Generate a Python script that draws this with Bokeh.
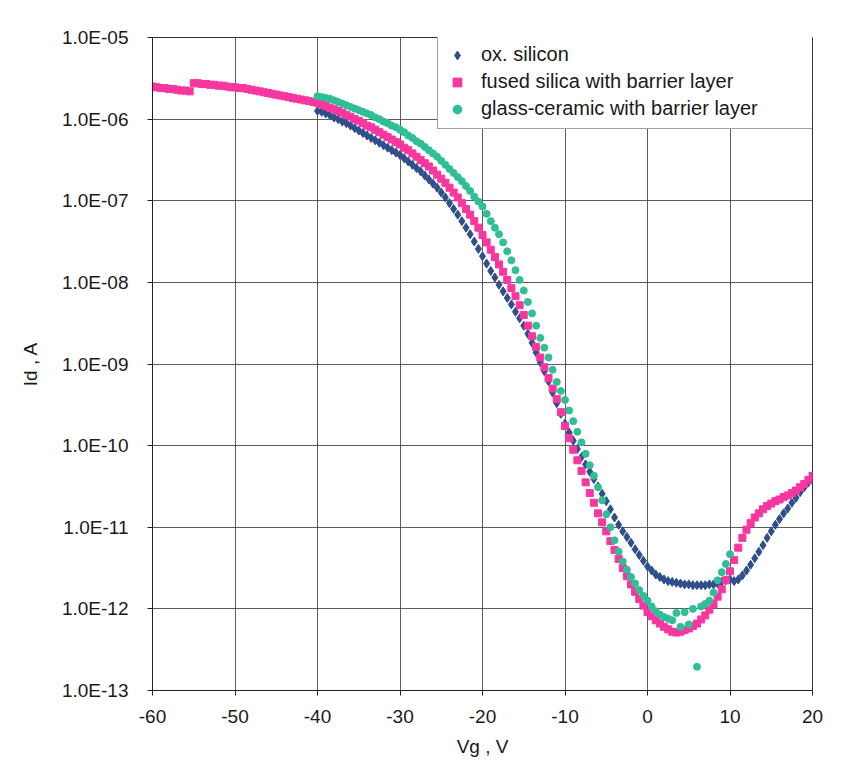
from bokeh.plotting import figure
from bokeh.models import Range1d, FixedTicker, CustomJSTickFormatter, Legend, LegendItem
from bokeh.embed import file_html
from bokeh.resources import INLINE

# ---------------- data ----------------
# gate voltage sweeps (V), 0.5 V step
vg_start_fused = -60.0
vg_start_oxsi = -40.0
vg_start_glass = -40.0
vg_step = 0.5

# log10(Id / A) for each series
log_id_fused = [
    -5.60, -5.61, -5.62, -5.62, -5.63, -5.63, -5.64, -5.65, -5.65, -5.66,
    -5.56, -5.56, -5.57, -5.57, -5.58, -5.58, -5.59, -5.59, -5.60, -5.61,
    -5.61, -5.62, -5.62, -5.63, -5.64, -5.65, -5.66, -5.67, -5.68, -5.69,
    -5.70, -5.71, -5.72, -5.73, -5.74, -5.75, -5.76, -5.77, -5.78, -5.79,
    -5.80, -5.82, -5.84, -5.86, -5.88, -5.90, -5.92, -5.95, -5.97, -6.00,
    -6.02, -6.05, -6.08, -6.10, -6.13, -6.16, -6.19, -6.22, -6.25, -6.28,
    -6.31, -6.35, -6.38, -6.42, -6.46, -6.50, -6.54, -6.58, -6.63, -6.68,
    -6.73, -6.78, -6.84, -6.90, -6.96, -7.03, -7.10, -7.17, -7.25, -7.33,
    -7.42, -7.51, -7.60, -7.69, -7.78, -7.87, -7.97, -8.07, -8.17, -8.28,
    -8.40, -8.53, -8.66, -8.79, -8.92, -9.04, -9.17, -9.30, -9.43, -9.59,
    -9.76, -9.91, -10.05, -10.18, -10.31, -10.45, -10.58, -10.70, -10.83, -10.94,
    -11.05, -11.17, -11.28, -11.39, -11.50, -11.60, -11.70, -11.79, -11.88, -11.96,
    -12.04, -12.09, -12.14, -12.18, -12.22, -12.25, -12.28, -12.29, -12.28, -12.26,
    -12.24, -12.21, -12.18, -12.13, -12.08, -12.01, -11.94, -11.85, -11.76, -11.65,
    -11.54, -11.40, -11.25, -11.13, -11.03, -10.95, -10.88, -10.83, -10.78, -10.74,
    -10.71, -10.68, -10.66, -10.63, -10.61, -10.58, -10.55, -10.51, -10.47, -10.42,
    -10.37,
]

log_id_oxsi = [
    -5.90, -5.91, -5.93, -5.95, -5.98, -6.00, -6.03, -6.05, -6.08, -6.11,
    -6.14, -6.17, -6.20, -6.23, -6.26, -6.29, -6.32, -6.35, -6.38, -6.41,
    -6.44, -6.48, -6.52, -6.56, -6.60, -6.64, -6.69, -6.74, -6.79, -6.84,
    -6.90, -6.96, -7.03, -7.10, -7.17, -7.25, -7.33, -7.41, -7.50, -7.59,
    -7.68, -7.77, -7.86, -7.94, -8.03, -8.11, -8.19, -8.27, -8.36, -8.44,
    -8.53, -8.63, -8.74, -8.86, -8.98, -9.09, -9.21, -9.35, -9.48, -9.61,
    -9.73, -9.84, -9.94, -10.04, -10.14, -10.23, -10.32, -10.41, -10.50, -10.59,
    -10.68, -10.78, -10.88, -10.97, -11.05, -11.12, -11.19, -11.27, -11.34, -11.41,
    -11.48, -11.53, -11.58, -11.61, -11.64, -11.66, -11.67, -11.68, -11.69, -11.70,
    -11.70, -11.71, -11.71, -11.71, -11.71, -11.70, -11.70, -11.69, -11.67, -11.65,
    -11.64, -11.66, -11.64, -11.59, -11.53, -11.46, -11.38, -11.30, -11.22, -11.13,
    -11.05, -10.97, -10.90, -10.83, -10.77, -10.70, -10.64, -10.57, -10.51, -10.45,
    -10.39,
]

log_id_glass = [
    -5.72, -5.73, -5.74, -5.75, -5.77, -5.79, -5.81, -5.83, -5.85, -5.87,
    -5.89, -5.91, -5.93, -5.95, -5.98, -6.00, -6.03, -6.05, -6.08, -6.10,
    -6.13, -6.16, -6.20, -6.23, -6.27, -6.30, -6.34, -6.38, -6.42, -6.46,
    -6.51, -6.56, -6.61, -6.66, -6.71, -6.76, -6.82, -6.88, -6.95, -7.01,
    -7.07, -7.16, -7.25, -7.33, -7.41, -7.51, -7.62, -7.73, -7.85, -7.97,
    -8.10, -8.24, -8.38, -8.53, -8.68, -8.80, -8.92, -9.07, -9.22, -9.33,
    -9.44, -9.57, -9.70, -9.83, -9.96, -10.10, -10.24, -10.37, -10.51, -10.67,
    -10.84, -11.00, -11.16, -11.30, -11.42, -11.52, -11.61, -11.69, -11.77, -11.84,
    -11.90, -11.97, -12.03, -12.07, -12.10, -12.12, -12.14, -12.05, -12.22, -12.04,
    -12.19, -12.00, -12.71, -11.97, -11.94, -11.90, -11.80, -11.65, -11.55, -11.45,
    -11.33,
]

series_names = [
    "ox. silicon",
    "fused silica with barrier layer",
    "glass-ceramic with barrier layer",
]
y_tick_values = [1e-13, 1e-12, 1e-11, 1e-10, 1e-9, 1e-8, 1e-7, 1e-6, 1e-5]
x_tick_values = [-60, -50, -40, -30, -20, -10, 0, 10, 20]

# ---------------- build ----------------
def sweep(start, n):
    return [start + vg_step * i for i in range(n)]

vg_fused = sweep(vg_start_fused, len(log_id_fused))
vg_oxsi = sweep(vg_start_oxsi, len(log_id_oxsi))
vg_glass = sweep(vg_start_glass, len(log_id_glass))
id_fused = [10 ** v for v in log_id_fused]
id_oxsi = [10 ** v for v in log_id_oxsi]
id_glass = [10 ** v for v in log_id_glass]

FONT = "Liberation Sans"
TXT = "#1a1a1a"

p = figure(
    width=845, height=771,
    y_axis_type="log",
    x_range=Range1d(-60, 20), y_range=Range1d(1e-13, 1e-5),
    output_backend="svg", toolbar_location=None,
    min_border_left=152, min_border_right=33, min_border_top=37, min_border_bottom=81,
)
p.background_fill_color = "white"
p.border_fill_color = "white"
p.outline_line_color = "#333333"
p.outline_line_width = 1

# grid
p.xgrid.ticker = FixedTicker(ticks=x_tick_values)
p.ygrid.ticker = FixedTicker(ticks=y_tick_values)
for g in (p.xgrid, p.ygrid):
    g.grid_line_color = "#4a4a4a"
    g.grid_line_width = 1
    g.grid_line_alpha = 0.9

# axes
xa = p.xaxis[0]
xa.ticker = FixedTicker(ticks=x_tick_values)
xa.axis_label = "Vg , V"
xa.formatter = CustomJSTickFormatter(code="return String(Math.round(tick));")
ya = p.yaxis[0]
ya.ticker = FixedTicker(ticks=y_tick_values, minor_ticks=[])
ya.axis_label = "Id , A"
ya.formatter = CustomJSTickFormatter(code="""
    const e = Math.round(Math.log10(tick));
    const a = Math.abs(e);
    return '1.0E' + (e < 0 ? '-' : '+') + (a < 10 ? '0' : '') + a;
""")
for ax in (xa, ya):
    ax.axis_line_color = "#222222"
    ax.major_tick_line_color = "#222222"
    ax.major_tick_in = 0
    ax.major_tick_out = 5
    ax.minor_tick_line_color = None
    ax.major_label_text_font = FONT
    ax.major_label_text_font_size = "19px"
    ax.major_label_text_color = TXT
    ax.axis_label_text_font = FONT
    ax.axis_label_text_font_size = "19px"
    ax.axis_label_text_font_style = "normal"
    ax.axis_label_text_color = TXT
xa.major_label_standoff = 14
xa.axis_label_standoff = 10
ya.major_label_standoff = 19
ya.axis_label_standoff = 18

# data
r_ox = p.scatter(vg_oxsi, id_oxsi, marker="diamond", size=9,
                 fill_color="#2f4f8c", line_color="#2f4f8c")
r_fu = p.scatter(vg_fused, id_fused, marker="square", size=7,
                 fill_color="#f7379f", line_color="#f7379f")
r_gl = p.scatter(vg_glass, id_glass, marker="circle", size=7,
                 fill_color="#2fbf97", line_color="#2fbf97")

legend = Legend(items=[
    LegendItem(label=series_names[0], renderers=[r_ox]),
    LegendItem(label=series_names[1], renderers=[r_fu]),
    LegendItem(label=series_names[2], renderers=[r_gl]),
])
legend.location = (285, 561)
legend.margin = 0
legend.padding = 8
legend.spacing = 4
legend.label_height = 22
legend.glyph_height = 22
legend.glyph_width = 22
legend.label_standoff = 13
legend.label_width = 324
legend.label_text_font = FONT
legend.label_text_font_size = "20px"
legend.label_text_color = TXT
legend.border_line_color = "#444444"
legend.border_line_width = 1
legend.background_fill_color = "white"
legend.background_fill_alpha = 1
p.add_layout(legend, "center")

open("out.html", "w").write(file_html(p, INLINE))
